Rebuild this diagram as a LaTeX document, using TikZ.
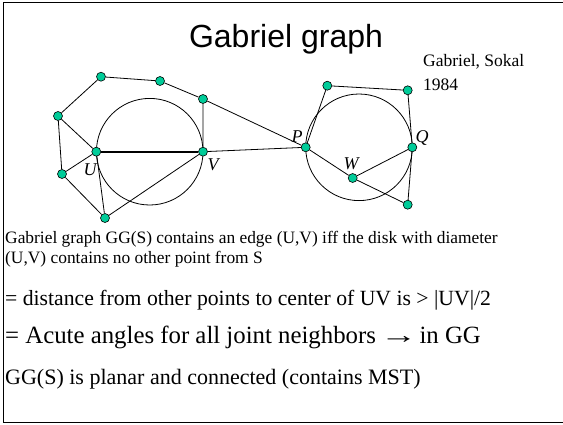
\documentclass[tikz,border=0pt]{standalone}
\usepackage{fontspec}
\setmainfont{Liberation Serif}
\newfontfamily\titlefont{Liberation Sans}
\definecolor{ptfill}{RGB}{0,204,153}
\begin{document}
\begin{tikzpicture}[x=1pt,y=-1pt,
  pt/.style={circle,draw=black,fill=ptfill,line width=0.6pt,inner sep=0pt,minimum size=9pt},
  edge/.style={line width=0.8pt},
  thickedge/.style={line width=2pt},
  disk/.style={line width=0.8pt},
  lab/.style={font=\fontsize{18}{18}\selectfont\itshape,inner sep=0pt},
  txt/.style={anchor=base west,inner sep=0pt}]
\useasboundingbox (0,0) rectangle (563,424);
\draw[line width=1pt] (563,2.5) -- (3.5,2.5) -- (3.5,422.5) -- (563,422.5);
% title
\node[anchor=base,inner sep=0pt,font=\titlefont\fontsize{32}{32}\selectfont] (title) at (286,47) {Gabriel graph};
\node[anchor=base west,inner sep=0pt,align=left,font=\fontsize{17.5}{23.3}\selectfont] (ref) at (423,90) {Gabriel, Sokal\\1984};
% circles
\draw[disk] (149.7,151.7) circle (53.3);
\draw[disk] (359,147.3) circle (53.3);
% left points
\node[pt] (A) at (101,76.7) {};
\node[pt] (B) at (160,81) {};
\node[pt] (C) at (203,99) {};
\node[pt] (D) at (58,116) {};
\node[pt] (U) at (96.3,151.7) {};
\node[pt] (V) at (203,151.7) {};
\node[pt] (E) at (62,174) {};
\node[pt] (F) at (105,218) {};
% right points
\node[pt] (G) at (327.3,85.7) {};
\node[pt] (H) at (407.7,90.3) {};
\node[pt] (P) at (305.7,147.3) {};
\node[pt] (Q) at (412.3,147.3) {};
\node[pt] (W) at (352.7,178) {};
\node[pt] (R) at (407.7,204.7) {};
% edges
\draw[thickedge] (U) -- (V);
\draw[edge] (A) -- (B) (B) -- (C) (C) -- (V) (A) -- (D) (D) -- (U) (D) -- (E)
  (E) -- (U) (E) -- (F) (U) -- (F) (F) -- (V) (C) -- (P) (V) -- (P)
  (G) -- (H) (G) -- (P) (H) -- (Q) (P) -- (W) (W) -- (Q) (W) -- (R) (Q) -- (R);
% labels
\node[lab] (lU) at (90,170) {U};
\node[lab] (lV) at (213,165) {V};
\node[lab] (lP) at (297,137) {P};
\node[lab] (lQ) at (422,138) {Q};
\node[lab] (lW) at (351,164) {W};
% text
\node[txt,font=\fontsize{17.4}{19.5}\selectfont,align=left] (t1) at (5,263) {Gabriel graph GG(S) contains an edge (U,V) iff the disk with diameter\\(U,V) contains no other point from S};
\node[txt,font=\fontsize{21.7}{21.7}\selectfont] (t2) at (5,305) {= distance from other points to center of UV is > |UV|/2};
\node[txt,font=\fontsize{24.8}{24.8}\selectfont] (t3) at (5,343) {= Acute angles for all joint neighbors\kern-2pt\ \scalebox{1.5}[1]{→}\kern-4pt\ in GG};
\node[txt,font=\fontsize{22}{22}\selectfont] (t4) at (5,384) {GG(S) is planar and connected (contains MST)};
\end{tikzpicture}
\end{document}
